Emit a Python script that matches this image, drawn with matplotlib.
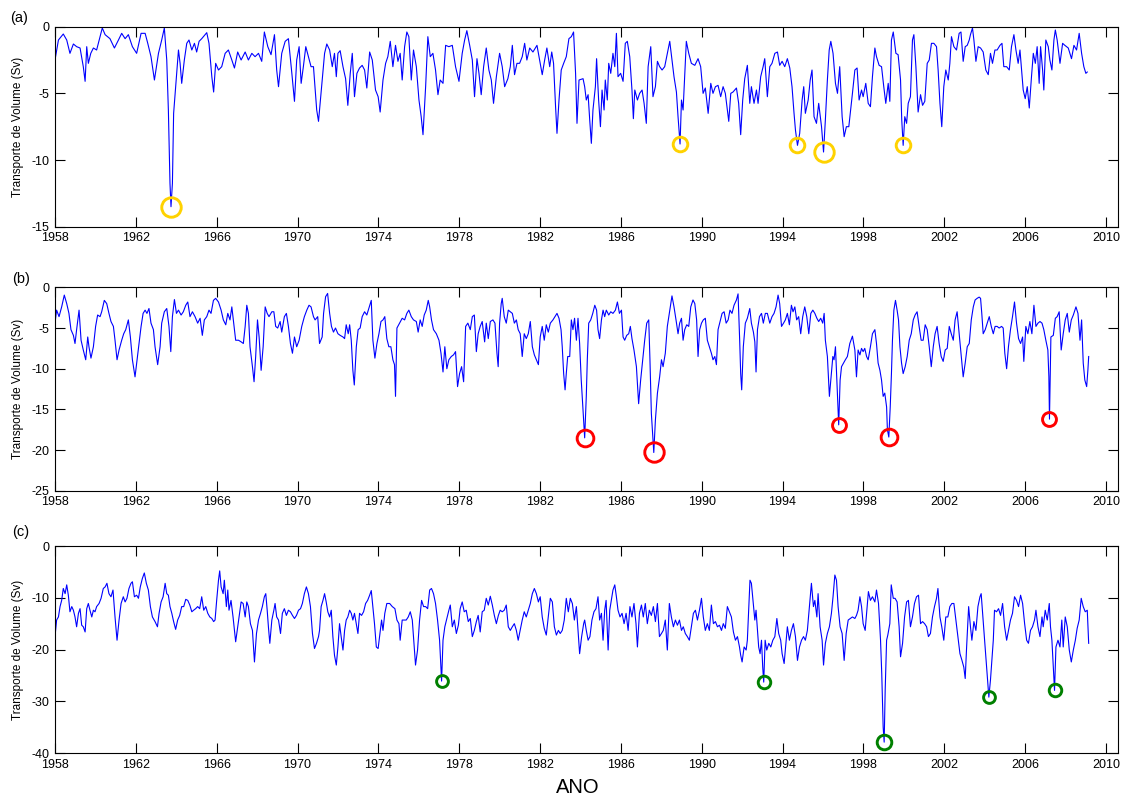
import numpy as np
import matplotlib.pyplot as plt

plt.rcParams['font.family'] = ['Liberation Sans', 'DejaVu Sans']
plt.rcParams['axes.unicode_minus'] = False

# ==========================================
# 1. Dados - anos decimais e transporte (Sv)
# ==========================================
# (a)
t_a = [
    1958.00, 1958.17, 1958.41, 1958.58, 1958.74, 1958.91, 1959.07, 1959.24, 1959.40, 1959.49,
    1959.57, 1959.65, 1959.77, 1959.90, 1960.06, 1960.23, 1960.34, 1960.48, 1960.72, 1960.94,
    1961.14, 1961.30, 1961.47, 1961.63, 1961.83, 1962.04, 1962.26, 1962.46, 1962.59, 1962.75,
    1962.92, 1963.12, 1963.28, 1963.41, 1963.53, 1963.61, 1963.69, 1963.74, 1963.81, 1963.87,
    1963.97, 1964.11, 1964.19, 1964.27, 1964.40, 1964.52, 1964.63, 1964.77, 1964.90, 1965.01,
    1965.13, 1965.26, 1965.51, 1965.62, 1965.76, 1965.85, 1965.95, 1966.09, 1966.25, 1966.42,
    1966.58, 1966.75, 1966.88, 1967.04, 1967.21, 1967.41, 1967.57, 1967.74, 1967.90, 1968.07,
    1968.23, 1968.36, 1968.53, 1968.69, 1968.86, 1968.97, 1969.06, 1969.22, 1969.39, 1969.55,
    1969.72, 1969.85, 1969.96, 1970.08, 1970.18, 1970.29, 1970.41, 1970.54, 1970.67, 1970.79,
    1970.95, 1971.04,
    1971.22, 1971.34, 1971.45, 1971.59, 1971.72, 1971.83, 1971.92, 1972.00, 1972.11, 1972.25,
    1972.38, 1972.49, 1972.61, 1972.71, 1972.82, 1972.94, 1973.07, 1973.20, 1973.32, 1973.43,
    1973.57, 1973.70, 1973.86, 1973.99, 1974.09, 1974.23, 1974.36, 1974.47, 1974.59, 1974.72,
    1974.85, 1974.97, 1975.08, 1975.18, 1975.30, 1975.41, 1975.51, 1975.63, 1975.74, 1975.88,
    1976.01, 1976.12, 1976.21, 1976.34, 1976.45, 1976.57, 1976.70, 1976.83, 1976.95, 1977.06,
    1977.20, 1977.33, 1977.49, 1977.66, 1977.82, 1977.99, 1978.15, 1978.27, 1978.38, 1978.52,
    1978.65, 1978.76, 1978.88, 1978.98, 1979.09, 1979.21, 1979.34, 1979.47, 1979.59, 1979.70,
    1979.84, 1980.00, 1980.13, 1980.25, 1980.41, 1980.53, 1980.63, 1980.74, 1980.86, 1980.99,
    1981.12, 1981.24, 1981.35, 1981.49, 1981.65, 1981.85, 1981.98, 1982.11, 1982.23, 1982.34,
    1982.48, 1982.58, 1982.67, 1982.77, 1982.84, 1982.94, 1983.05, 1983.17, 1983.30, 1983.43,
    1983.55, 1983.66, 1983.76, 1983.83, 1983.93, 1984.13,
    1984.21, 1984.29, 1984.38, 1984.46, 1984.54, 1984.62, 1984.74, 1984.80, 1984.90, 1984.99,
    1985.07, 1985.17, 1985.23, 1985.33, 1985.40, 1985.50, 1985.61, 1985.70, 1985.78, 1985.86,
    1985.99, 1986.11, 1986.22, 1986.32, 1986.44, 1986.55, 1986.62, 1986.69, 1986.82, 1986.93,
    1987.05, 1987.15, 1987.26, 1987.35, 1987.48, 1987.59, 1987.71, 1987.81, 1987.92, 1988.04,
    1988.17, 1988.30, 1988.42, 1988.53, 1988.63, 1988.75, 1988.83, 1988.93, 1989.00, 1989.08,
    1989.16, 1989.24, 1989.36, 1989.49, 1989.66, 1989.82, 1989.95, 1990.07, 1990.18, 1990.32,
    1990.45, 1990.56, 1990.68, 1990.81, 1990.94, 1991.06, 1991.17, 1991.34, 1991.44, 1991.55,
    1991.72, 1991.83, 1991.93, 1992.03, 1992.13, 1992.26, 1992.38, 1992.46, 1992.59, 1992.71,
    1992.79, 1992.92, 1993.04, 1993.12, 1993.25, 1993.37, 1993.48, 1993.62, 1993.75, 1993.86,
    1993.98, 1994.11, 1994.24, 1994.36, 1994.47, 1994.57, 1994.64, 1994.74, 1994.85, 1994.97,
    1995.05, 1995.13, 1995.27, 1995.37, 1995.46, 1995.56, 1995.68, 1995.79, 1995.93, 1996.03,
    1996.12, 1996.22, 1996.31, 1996.39, 1996.50, 1996.62, 1996.72, 1996.83, 1996.95, 1997.05,
    1997.16, 1997.28,
    1997.46, 1997.58, 1997.69, 1997.79, 1997.91, 1997.99, 1998.12, 1998.24, 1998.35, 1998.45,
    1998.57, 1998.65, 1998.78, 1998.90, 1999.01, 1999.11, 1999.23, 1999.31, 1999.39, 1999.48,
    1999.61, 1999.72, 1999.84, 1999.90, 1999.97, 2000.05, 2000.14, 2000.22, 2000.33, 2000.43,
    2000.50, 2000.60, 2000.71, 2000.83, 2000.93, 2001.04, 2001.16, 2001.26, 2001.37, 2001.49,
    2001.62, 2001.70, 2001.79, 2001.88, 2001.98, 2002.08, 2002.20, 2002.28, 2002.36, 2002.48,
    2002.61, 2002.74, 2002.83, 2002.94, 2003.04, 2003.14, 2003.24, 2003.30, 2003.40, 2003.47,
    2003.57, 2003.68, 2003.80, 2003.93, 2004.06, 2004.18, 2004.29, 2004.39, 2004.51, 2004.62,
    2004.76, 2004.86, 2004.95, 2005.09, 2005.22, 2005.33, 2005.45, 2005.55, 2005.66, 2005.75,
    2005.83, 2005.91, 2006.01, 2006.11, 2006.21, 2006.32, 2006.41, 2006.51, 2006.60, 2006.70,
    2006.77, 2006.87, 2006.93, 2007.03, 2007.15, 2007.23, 2007.33, 2007.43, 2007.50, 2007.59,
    2007.73, 2007.86, 2007.97, 2008.14, 2008.30, 2008.42, 2008.55, 2008.68, 2008.80, 2008.91,
    2009.01, 2009.08,
]
v_a = [
    -2.5, -1.0, -0.55, -1.0, -2.0, -1.3, -1.5, -1.6, -3.0, -4.1,
    -1.5, -2.75, -2.0, -1.6, -1.75, -0.75, -0.1, -0.6, -0.9, -1.6,
    -1.0, -0.5, -0.9, -0.6, -1.5, -2.0, -0.5, -0.5, -1.25, -2.25,
    -4.0, -2.0, -1.0, -0.1, -2.5, -6.25, -11.75, -13.5, -11.75, -6.5,
    -4.5, -1.75, -2.75, -4.25, -2.5, -1.25, -1.0, -1.75, -1.25, -1.9,
    -1.1, -0.9, -0.45, -1.25, -3.75, -4.9, -2.75, -3.25, -3.0, -2.0,
    -1.75, -2.5, -3.1, -1.9, -2.5, -1.9, -2.5, -2.0, -2.25, -2.0,
    -2.6, -0.4, -1.5, -2.1, -0.6, -3.25, -4.5, -2.0, -1.1, -0.9,
    -3.5, -5.6, -2.5, -1.5, -4.25, -3.0, -1.5, -2.25, -3.0, -3.0,
    -6.25, -7.1,
    -4.0, -2.0, -1.3, -1.75, -3.0, -2.0, -3.75, -2.0, -1.8, -3.0,
    -3.9, -5.9, -3.5, -2.0, -5.25, -3.5, -3.1, -2.9, -3.25, -4.6,
    -1.9, -2.5, -4.75, -5.25, -6.4, -4.0, -2.75, -2.25, -1.1, -3.0,
    -1.4, -2.6, -2.0, -4.0, -1.5, -0.4, -0.75, -4.0, -1.75, -3.0,
    -5.5, -6.75, -8.1, -4.5, -0.75, -2.25, -2.0, -3.25, -5.1, -4.0,
    -4.25, -1.4, -1.5, -1.4, -3.0, -4.1, -2.0, -1.0, -0.3, -1.4,
    -2.5, -5.25, -2.4, -3.5, -5.1, -3.0, -1.6, -3.25, -4.0, -5.75,
    -3.75, -2.0, -3.0, -4.5, -3.9, -3.0, -1.4, -3.6, -2.75, -2.75,
    -2.25, -1.25, -2.5, -1.6, -1.9, -1.4, -2.5, -3.6, -2.5, -1.6,
    -3.0, -1.9, -2.75, -6.0, -8.0, -5.5, -3.25, -2.75, -2.25, -0.9,
    -0.75, -0.4, -3.5, -7.25, -4.0, -3.9,
    -4.5, -5.5, -5.1, -7.0, -8.75, -6.25, -4.5, -2.4, -5.5, -7.5,
    -4.75, -6.25, -4.0, -5.5, -2.75, -3.5, -2.0, -3.0, -0.5, -3.75,
    -3.5, -4.1, -1.25, -1.1, -2.25, -4.75, -6.9, -4.75, -5.5, -5.0,
    -4.75, -5.75, -7.25, -3.0, -1.5, -5.25, -4.5, -2.6, -3.0, -3.25,
    -3.0, -2.0, -1.1, -2.5, -3.75, -4.9, -6.75, -8.8, -5.5, -6.25,
    -3.75, -1.1, -2.0, -2.75, -2.9, -2.4, -3.0, -5.0, -4.6, -6.5,
    -4.25, -5.0, -4.5, -4.4, -5.25, -4.5, -5.0, -7.1, -5.0, -4.9,
    -4.6, -5.75, -8.1, -5.5, -3.9, -2.9, -5.75, -4.5, -5.75, -4.75,
    -5.75, -3.75, -3.0, -2.4, -5.25, -3.0, -2.75, -2.0, -1.9, -2.9,
    -2.6, -3.0, -2.4, -3.1, -4.5, -6.5, -7.75, -8.9, -8.0, -5.5,
    -4.5, -6.5, -5.5, -4.0, -3.25, -6.75, -7.25, -5.75, -7.5, -9.4,
    -7.0, -4.0, -1.75, -1.1, -2.0, -4.25, -5.0, -3.0, -6.75, -8.25,
    -7.5, -7.5,
    -5.0, -3.25, -3.1, -5.5, -4.75, -5.25, -4.25, -5.75, -6.0, -3.75,
    -1.6, -2.25, -2.9, -3.0, -4.5, -5.75, -4.25, -5.6, -1.0, -0.4,
    -2.0, -2.1, -4.0, -7.0, -8.9, -6.75, -7.25, -5.75, -5.25, -1.0,
    -0.6, -3.0, -6.4, -5.1, -5.9, -5.6, -2.75, -2.5, -1.25, -1.25,
    -1.5, -3.25, -5.75, -7.5, -4.5, -3.25, -4.0, -2.75, -0.75, -1.5,
    -1.75, -0.5, -0.4, -2.6, -1.5, -1.4, -1.0, -0.6, -0.1, -1.0,
    -2.6, -1.5, -1.6, -1.9, -3.25, -3.6, -2.0, -2.75, -1.75, -1.75,
    -1.4, -1.25, -3.0, -3.0, -3.25, -1.5, -0.6, -1.75, -2.75, -1.75,
    -3.25, -4.75, -5.4, -4.5, -6.1, -3.75, -2.0, -2.75, -1.5, -4.25,
    -1.5, -3.25, -4.75, -1.0, -1.5, -2.5, -3.25, -1.0, -0.25, -1.0,
    -2.75, -1.25, -1.4, -1.6, -2.4, -1.4, -1.75, -0.5, -2.0, -3.0,
    -3.5, -3.4,
]

# (b)
t_b = [
    1958.00, 1958.08, 1958.20, 1958.33, 1958.46, 1958.58, 1958.69, 1958.79, 1958.91, 1958.99,
    1959.07, 1959.19, 1959.29, 1959.40, 1959.52, 1959.62, 1959.68, 1959.78, 1959.90, 1960.01,
    1960.11, 1960.23, 1960.31, 1960.44, 1960.56, 1960.67, 1960.77, 1960.89, 1960.97, 1961.07,
    1961.17, 1961.30, 1961.40, 1961.50, 1961.63, 1961.73, 1961.83, 1961.96, 1962.06, 1962.16,
    1962.26, 1962.36, 1962.46, 1962.55, 1962.65, 1962.75, 1962.87, 1962.95, 1963.08, 1963.20,
    1963.28, 1963.41, 1963.53, 1963.64, 1963.73, 1963.81, 1963.91, 1964.01, 1964.11, 1964.24,
    1964.35, 1964.47, 1964.57, 1964.68, 1964.80, 1964.93, 1965.06, 1965.18, 1965.29, 1965.39,
    1965.51, 1965.62, 1965.72, 1965.84, 1965.95, 1966.09, 1966.22, 1966.33, 1966.45, 1966.55,
    1966.66, 1966.75, 1966.84, 1966.94, 1967.08, 1967.21, 1967.32, 1967.41, 1967.49, 1967.57,
    1967.65, 1967.77, 1967.85, 1967.93, 1968.02, 1968.10, 1968.20, 1968.30, 1968.40, 1968.50,
    1968.59, 1968.73, 1968.83, 1968.92, 1969.02, 1969.14, 1969.22, 1969.35, 1969.45, 1969.55,
    1969.65, 1969.75, 1969.85, 1969.96, 1970.08, 1970.21, 1970.34, 1970.46, 1970.57, 1970.67,
    1970.79, 1970.87, 1971.00,
    1971.09, 1971.22, 1971.29, 1971.39, 1971.49, 1971.59, 1971.68, 1971.78, 1971.88, 1972.00,
    1972.11, 1972.25, 1972.33, 1972.41, 1972.51, 1972.58, 1972.66, 1972.74, 1972.81, 1972.91,
    1973.00, 1973.10, 1973.20, 1973.32, 1973.43, 1973.53, 1973.65, 1973.73, 1973.83, 1973.93,
    1974.03, 1974.13, 1974.23, 1974.32, 1974.42, 1974.52, 1974.62, 1974.72, 1974.80, 1974.85,
    1974.92, 1975.05, 1975.18, 1975.30, 1975.41, 1975.51, 1975.63, 1975.74, 1975.88, 1975.97,
    1976.07, 1976.17, 1976.27, 1976.37, 1976.47, 1976.54, 1976.63, 1976.73, 1976.87, 1977.00,
    1977.10, 1977.20, 1977.29, 1977.39, 1977.49, 1977.61, 1977.72, 1977.82, 1977.92, 1978.02,
    1978.12, 1978.22, 1978.32, 1978.43, 1978.55, 1978.65, 1978.75, 1978.85, 1978.94, 1979.04,
    1979.14, 1979.26, 1979.34, 1979.44, 1979.54, 1979.67, 1979.77, 1979.87, 1979.93, 1980.00,
    1980.08, 1980.13, 1980.23, 1980.33, 1980.43, 1980.53, 1980.63, 1980.73, 1980.83, 1980.92,
    1981.02, 1981.12, 1981.22, 1981.32, 1981.42, 1981.52, 1981.62, 1981.72, 1981.82, 1981.92,
    1982.01, 1982.11, 1982.21, 1982.31, 1982.41, 1982.51, 1982.64, 1982.74, 1982.84, 1982.94,
    1983.04, 1983.10, 1983.17, 1983.24, 1983.30, 1983.37, 1983.47, 1983.55, 1983.63, 1983.71,
    1983.80, 1983.88, 1983.96, 1984.04, 1984.13, 1984.21,
    1984.29, 1984.34, 1984.41, 1984.51, 1984.61, 1984.71, 1984.80, 1984.87, 1984.95, 1985.04,
    1985.12, 1985.20, 1985.28, 1985.40, 1985.50, 1985.61, 1985.73, 1985.83, 1985.93, 1986.03,
    1986.11, 1986.19, 1986.29, 1986.39, 1986.47, 1986.55, 1986.65, 1986.77, 1986.82, 1986.88,
    1986.98, 1987.08, 1987.18, 1987.28, 1987.38, 1987.44, 1987.51, 1987.59, 1987.63, 1987.71,
    1987.81, 1987.92, 1988.01, 1988.09, 1988.20, 1988.30, 1988.40, 1988.47, 1988.53, 1988.63,
    1988.73, 1988.83, 1988.91, 1989.00, 1989.08, 1989.16, 1989.26, 1989.36, 1989.46, 1989.57,
    1989.66, 1989.75, 1989.82, 1989.90, 1989.99, 1990.08, 1990.18, 1990.28, 1990.38, 1990.48,
    1990.56, 1990.65, 1990.73, 1990.81, 1990.91, 1991.01, 1991.11, 1991.21, 1991.31, 1991.40,
    1991.50, 1991.60, 1991.72, 1991.80, 1991.88, 1991.93, 1991.98, 1992.06, 1992.16, 1992.26,
    1992.38, 1992.46, 1992.56, 1992.63, 1992.69, 1992.76, 1992.86, 1992.96, 1993.05, 1993.15,
    1993.25, 1993.37, 1993.48, 1993.58, 1993.68, 1993.78, 1993.86, 1993.95, 1994.05, 1994.14,
    1994.24, 1994.34, 1994.44, 1994.52, 1994.61, 1994.70, 1994.80, 1994.90, 1995.00, 1995.10,
    1995.20, 1995.30, 1995.40, 1995.50, 1995.60, 1995.70, 1995.79, 1995.89, 1995.99, 1996.06,
    1996.12, 1996.22, 1996.32, 1996.42, 1996.49, 1996.55, 1996.62, 1996.69, 1996.75, 1996.78,
    1996.85, 1996.92, 1997.02, 1997.11, 1997.21, 1997.33,
    1997.46, 1997.58, 1997.66, 1997.74, 1997.83, 1997.91, 1997.99, 1998.07, 1998.16, 1998.24,
    1998.35, 1998.45, 1998.57, 1998.65, 1998.73, 1998.82, 1998.90, 1998.98, 1999.06, 1999.15,
    1999.19, 1999.26, 1999.33, 1999.39, 1999.44, 1999.51, 1999.59, 1999.67, 1999.74, 1999.81,
    1999.89, 1999.97, 2000.07, 2000.17, 2000.27, 2000.37, 2000.47, 2000.56, 2000.66, 2000.76,
    2000.86, 2000.96, 2001.06, 2001.16, 2001.26, 2001.36, 2001.46, 2001.55, 2001.65, 2001.75,
    2001.85, 2001.95, 2002.05, 2002.15, 2002.25, 2002.35, 2002.45, 2002.54, 2002.64, 2002.74,
    2002.84, 2002.94, 2003.04, 2003.14, 2003.24, 2003.34, 2003.44, 2003.53, 2003.63, 2003.73,
    2003.80, 2003.86, 2003.93, 2004.03, 2004.13, 2004.23, 2004.33, 2004.43, 2004.52, 2004.62,
    2004.72, 2004.84, 2004.92, 2005.00, 2005.09, 2005.18, 2005.28, 2005.38, 2005.48, 2005.58,
    2005.68, 2005.78, 2005.88, 2005.94, 2006.04, 2006.14, 2006.24, 2006.34, 2006.44, 2006.54,
    2006.64, 2006.74, 2006.84, 2006.93, 2007.03, 2007.13, 2007.18, 2007.21, 2007.28, 2007.40,
    2007.50, 2007.59, 2007.69, 2007.79, 2007.89, 2007.99, 2008.09, 2008.19, 2008.29, 2008.39,
    2008.52, 2008.62, 2008.72, 2008.80, 2008.88, 2008.96, 2009.05, 2009.11, 2009.15,
]
v_b = [
    -4.4, -2.8, -3.6, -2.4, -0.95, -2.0, -3.2, -5.2, -5.9, -6.9,
    -5.2, -2.8, -6.5, -7.7, -8.9, -6.1, -7.3, -8.7, -7.3, -4.8,
    -3.4, -3.6, -3.0, -1.6, -2.0, -3.2, -4.2, -4.8, -6.5, -8.9,
    -7.7, -6.5, -5.7, -5.2, -4.0, -6.1, -8.9, -11.0, -8.9, -6.9,
    -4.8, -3.2, -2.8, -3.2, -2.6, -4.4, -5.2, -7.3, -9.5, -7.3,
    -4.4, -3.0, -2.6, -4.8, -7.9, -3.6, -1.5, -3.2, -2.8, -3.4,
    -3.0, -2.2, -1.8, -3.6, -3.0, -3.6, -4.4, -3.8, -5.9, -4.0,
    -3.6, -2.8, -3.2, -1.6, -1.35, -1.8, -2.8, -4.0, -4.6, -3.2,
    -4.0, -2.4, -4.4, -6.5, -6.5, -6.7, -6.9, -4.8, -2.2, -3.2,
    -7.3, -9.75, -11.6, -8.5, -4.0, -6.1, -10.2, -7.3, -2.4, -3.2,
    -3.6, -3.0, -3.0, -4.8, -5.0, -4.2, -5.5, -3.6, -3.2, -4.8,
    -6.9, -8.1, -6.1, -7.3, -6.5, -4.8, -3.6, -2.8, -2.2, -2.4,
    -3.6, -4.0, -3.6,
    -6.9, -6.1, -3.2, -1.15, -0.75, -3.2, -4.8, -5.5, -5.0, -5.7,
    -5.9, -6.1, -6.3, -4.6, -5.7, -4.6, -6.5, -10.2, -12.0, -7.3,
    -5.2, -5.0, -3.6, -3.0, -3.4, -2.6, -1.6, -6.5, -8.7, -6.9,
    -5.7, -4.2, -4.0, -3.6, -6.3, -7.3, -7.3, -8.9, -9.5, -13.4,
    -5.0, -4.4, -3.8, -4.0, -3.2, -2.8, -3.6, -4.0, -4.2, -5.5,
    -4.0, -4.8, -3.4, -2.8, -1.6, -2.4, -4.0, -5.2, -5.7, -6.5,
    -8.1, -10.4, -7.3, -10.0, -8.9, -8.5, -8.3, -7.9, -12.2, -10.6,
    -9.75, -11.6, -4.8, -4.4, -5.2, -3.6, -3.4, -7.9, -5.7, -4.8,
    -4.2, -6.7, -4.4, -6.3, -4.2, -4.0, -4.4, -8.1, -9.75, -4.4,
    -2.0, -1.35, -3.6, -4.4, -2.8, -3.0, -3.2, -4.4, -4.0, -5.2,
    -5.7, -8.5, -5.7, -6.3, -5.7, -4.2, -7.3, -8.3, -8.9, -9.5,
    -6.1, -4.8, -6.5, -4.6, -5.5, -4.4, -4.0, -3.6, -3.2, -3.8,
    -5.2, -7.3, -10.6, -12.6, -10.6, -8.5, -8.5, -4.0, -5.2, -3.8,
    -6.5, -3.8, -6.9, -11.4, -15.1, -18.5,
    -13.4, -8.9, -4.4, -4.0, -3.2, -2.2, -2.8, -5.2, -6.3, -4.0,
    -2.8, -3.6, -2.8, -3.4, -3.0, -3.2, -2.8, -1.8, -3.2, -2.8,
    -6.1, -6.5, -5.9, -5.7, -4.8, -6.3, -7.7, -9.75, -11.8, -14.3,
    -11.4, -8.9, -6.5, -4.4, -4.0, -8.9, -15.5, -18.8, -20.3, -16.3,
    -13.0, -11.0, -8.9, -9.75, -8.1, -4.8, -3.2, -2.0, -1.05, -2.4,
    -4.0, -5.7, -4.4, -3.8, -6.5, -5.2, -4.6, -4.8, -2.4, -1.55,
    -2.0, -4.0, -8.5, -5.2, -4.4, -4.0, -3.8, -6.5, -7.3, -8.1,
    -8.9, -8.5, -9.5, -5.2, -4.2, -3.2, -3.0, -4.4, -4.0, -2.8,
    -3.2, -2.2, -1.55, -0.8, -6.5, -10.6, -12.6, -7.3, -4.4, -3.8,
    -2.6, -4.4, -5.5, -6.7, -10.4, -5.2, -3.6, -3.2, -4.4, -3.2,
    -3.2, -4.4, -3.6, -3.2, -2.4, -0.95, -2.0, -4.8, -4.4, -4.0,
    -3.2, -4.6, -2.2, -3.0, -2.4, -4.0, -3.6, -5.7, -3.6, -2.4,
    -3.6, -5.7, -3.2, -2.8, -3.2, -3.8, -4.2, -3.8, -4.4, -3.2,
    -6.5, -8.5, -13.4, -10.6, -8.5, -8.9, -7.3, -11.4, -14.7, -16.9,
    -11.4, -9.75, -9.3, -8.9, -8.5, -6.9,
    -6.0, -7.7, -11.0, -7.7, -8.3, -7.5, -7.9, -7.5, -8.5, -8.9,
    -7.3, -5.7, -5.2, -6.9, -9.3, -10.2, -11.4, -13.4, -13.0, -14.7,
    -17.5, -18.4, -14.7, -10.6, -6.5, -2.8, -1.6, -2.8, -4.0, -7.3,
    -9.3, -10.6, -9.75, -8.5, -6.5, -5.7, -4.0, -3.4, -3.0, -4.8,
    -6.5, -6.5, -4.6, -5.2, -7.3, -9.75, -7.3, -5.7, -4.8, -6.9,
    -8.5, -9.1, -7.7, -7.5, -4.8, -5.7, -6.5, -4.0, -3.0, -5.7,
    -8.5, -11.0, -9.3, -7.3, -6.9, -4.0, -2.4, -1.55, -1.35, -1.2,
    -1.35, -3.2, -5.7, -5.2, -4.4, -3.6, -4.8, -5.7, -4.8, -4.8,
    -5.0, -4.8, -5.0, -8.1, -10.0, -7.3, -5.2, -3.6, -1.8, -4.4,
    -6.3, -6.9, -6.1, -9.1, -4.8, -5.7, -4.2, -5.7, -2.2, -4.8,
    -4.4, -4.2, -4.4, -5.2, -6.5, -7.7, -11.0, -16.2, -6.1, -5.9,
    -3.8, -3.6, -3.0, -7.7, -5.7, -4.0, -3.2, -5.5, -4.0, -3.4,
    -2.4, -3.2, -6.5, -4.0, -9.3, -11.4, -12.2, -10.2, -8.5,
]

# (c)
t_c = [
    1958.00, 1958.08, 1958.17, 1958.25, 1958.33, 1958.41, 1958.50, 1958.58, 1958.66, 1958.74,
    1958.83, 1958.91, 1958.99, 1959.07, 1959.16, 1959.24, 1959.32, 1959.40, 1959.49, 1959.57,
    1959.65, 1959.73, 1959.82, 1959.90, 1959.98, 1960.06, 1960.18, 1960.28, 1960.39, 1960.48,
    1960.57, 1960.67, 1960.77, 1960.87, 1960.97, 1961.07, 1961.17, 1961.27, 1961.38, 1961.47,
    1961.56, 1961.66, 1961.76, 1961.83, 1961.93, 1962.04, 1962.13, 1962.22, 1962.32, 1962.42,
    1962.52, 1962.62, 1962.72, 1962.82, 1962.95, 1963.07, 1963.15, 1963.25, 1963.35, 1963.45,
    1963.53, 1963.61, 1963.69, 1963.78, 1963.87, 1963.97, 1964.07, 1964.17, 1964.27, 1964.37,
    1964.47, 1964.57, 1964.67, 1964.77, 1964.86, 1964.96, 1965.06, 1965.16, 1965.26, 1965.36,
    1965.46, 1965.56, 1965.66, 1965.76, 1965.85, 1965.92, 1966.00, 1966.09, 1966.15, 1966.22,
    1966.32, 1966.38, 1966.48, 1966.55, 1966.61, 1966.71, 1966.81, 1966.88, 1966.94, 1967.04,
    1967.11, 1967.21, 1967.31, 1967.41, 1967.49, 1967.57, 1967.67, 1967.77, 1967.87, 1967.97,
    1968.07, 1968.17, 1968.26, 1968.36, 1968.43, 1968.50, 1968.56, 1968.63, 1968.73, 1968.83,
    1968.89, 1968.97, 1969.06, 1969.16, 1969.25, 1969.35, 1969.45, 1969.55, 1969.65, 1969.75,
    1969.85, 1969.95, 1970.05, 1970.15, 1970.24, 1970.34, 1970.44, 1970.54, 1970.64, 1970.74,
    1970.84, 1970.94, 1971.04,
    1971.09, 1971.17, 1971.26, 1971.34, 1971.42, 1971.50, 1971.59, 1971.67, 1971.75, 1971.83,
    1971.92, 1972.00, 1972.08, 1972.16, 1972.25, 1972.33, 1972.41, 1972.49, 1972.58, 1972.66,
    1972.74, 1972.82, 1972.91, 1972.99, 1973.07, 1973.17, 1973.27, 1973.37, 1973.47, 1973.57,
    1973.65, 1973.73, 1973.81, 1973.90, 1973.99, 1974.06, 1974.16, 1974.23, 1974.32, 1974.42,
    1974.56, 1974.69, 1974.82, 1974.92, 1975.02, 1975.08, 1975.18, 1975.28, 1975.38, 1975.48,
    1975.58, 1975.68, 1975.74, 1975.84, 1975.94, 1976.04, 1976.14, 1976.24, 1976.34, 1976.44,
    1976.54, 1976.63, 1976.73, 1976.83, 1976.93, 1977.03, 1977.10, 1977.13, 1977.20, 1977.29,
    1977.39, 1977.49, 1977.56, 1977.66, 1977.76, 1977.86, 1977.96, 1978.05, 1978.15, 1978.25,
    1978.35, 1978.45, 1978.55, 1978.65, 1978.75, 1978.85, 1978.94, 1979.04, 1979.14, 1979.24,
    1979.34, 1979.44, 1979.54, 1979.64, 1979.74, 1979.84, 1979.94, 1980.03, 1980.13, 1980.23,
    1980.33, 1980.43, 1980.53, 1980.63, 1980.73, 1980.83, 1980.92, 1981.02, 1981.12, 1981.22,
    1981.32, 1981.42, 1981.52, 1981.62, 1981.72, 1981.82, 1981.92, 1982.01, 1982.11, 1982.21,
    1982.31, 1982.41, 1982.51, 1982.61, 1982.71, 1982.81, 1982.91, 1983.00, 1983.10, 1983.20,
    1983.30, 1983.40, 1983.50, 1983.60, 1983.70, 1983.80, 1983.90, 1983.96, 1984.06, 1984.16,
    1984.21, 1984.29, 1984.38, 1984.47, 1984.57, 1984.67, 1984.77, 1984.87, 1984.95, 1985.04,
    1985.12, 1985.20, 1985.27, 1985.37, 1985.45, 1985.53, 1985.61, 1985.70, 1985.78, 1985.86,
    1985.96, 1986.06, 1986.16, 1986.26, 1986.36, 1986.45, 1986.55, 1986.65, 1986.75, 1986.82,
    1986.92, 1987.02, 1987.11, 1987.21, 1987.31, 1987.41, 1987.51, 1987.61, 1987.71, 1987.81,
    1987.91, 1988.01, 1988.10, 1988.20, 1988.30, 1988.40, 1988.50, 1988.60, 1988.70, 1988.80,
    1988.90, 1989.00, 1989.09, 1989.19, 1989.29, 1989.39, 1989.49, 1989.59, 1989.69, 1989.79,
    1989.89, 1989.99, 1990.08, 1990.18, 1990.28, 1990.38, 1990.48, 1990.58, 1990.68, 1990.78,
    1990.88, 1990.98, 1991.07, 1991.17, 1991.27, 1991.37, 1991.47, 1991.57, 1991.67, 1991.77,
    1991.87, 1991.93, 1992.00, 1992.10, 1992.20, 1992.26, 1992.33, 1992.39, 1992.46, 1992.54,
    1992.63, 1992.69, 1992.76, 1992.82, 1992.89, 1992.96, 1993.02, 1993.07, 1993.14, 1993.22,
    1993.32, 1993.42, 1993.52, 1993.62, 1993.72, 1993.81, 1993.91, 1993.98, 1994.08, 1994.18,
    1994.24, 1994.34, 1994.44, 1994.54, 1994.64, 1994.74, 1994.84, 1994.94, 1995.04, 1995.13,
    1995.23, 1995.33, 1995.43, 1995.53, 1995.60, 1995.70, 1995.76, 1995.86, 1995.96, 1996.03,
    1996.12, 1996.22, 1996.32, 1996.42, 1996.50, 1996.59, 1996.67, 1996.75, 1996.85, 1996.95,
    1997.05, 1997.15, 1997.25,
    1997.46, 1997.58, 1997.66, 1997.74, 1997.83, 1997.91, 1997.99, 1998.09, 1998.19, 1998.25,
    1998.35, 1998.45, 1998.57, 1998.65, 1998.75, 1998.85, 1998.91, 1998.98, 1999.03, 1999.08,
    1999.15, 1999.21, 1999.31, 1999.38, 1999.48, 1999.57, 1999.67, 1999.77, 1999.84, 1999.94,
    2000.04, 2000.14, 2000.23, 2000.33, 2000.43, 2000.53, 2000.63, 2000.73, 2000.83, 2000.93,
    2001.03, 2001.13, 2001.22, 2001.32, 2001.42, 2001.52, 2001.62, 2001.69, 2001.79, 2001.88,
    2001.98, 2002.08, 2002.18, 2002.28, 2002.38, 2002.48, 2002.58, 2002.68, 2002.78, 2002.88,
    2002.97, 2003.04, 2003.11, 2003.21, 2003.30, 2003.37, 2003.47, 2003.57, 2003.67, 2003.77,
    2003.83, 2003.90, 2004.00, 2004.10, 2004.16, 2004.21, 2004.29, 2004.36, 2004.43, 2004.49,
    2004.59, 2004.69, 2004.79, 2004.89, 2004.99, 2005.09, 2005.18, 2005.28, 2005.38, 2005.48,
    2005.58, 2005.68, 2005.78, 2005.88, 2005.98, 2006.08, 2006.17, 2006.27, 2006.37, 2006.47,
    2006.54, 2006.64, 2006.74, 2006.84, 2006.90, 2007.00, 2007.10, 2007.20, 2007.26, 2007.33,
    2007.40, 2007.46, 2007.53, 2007.63, 2007.73, 2007.82, 2007.89, 2007.99, 2008.09, 2008.19,
    2008.29, 2008.39, 2008.49, 2008.58, 2008.68, 2008.78, 2008.88, 2008.98, 2009.08, 2009.15,
]
v_c = [
    -17.5, -14.3, -13.7, -11.7, -10.5, -8.2, -9.2, -7.5, -9.5, -12.7,
    -11.7, -12.4, -13.7, -15.6, -13.0, -12.1, -15.3, -15.6, -16.6, -12.1,
    -11.1, -12.4, -13.7, -12.4, -12.7, -11.7, -11.1, -10.1, -8.2, -7.9,
    -7.2, -9.2, -9.8, -8.5, -13.7, -18.2, -14.3, -11.1, -9.8, -10.8,
    -10.1, -8.2, -7.2, -6.9, -9.8, -9.5, -10.1, -7.9, -6.3, -5.2,
    -7.2, -8.5, -11.7, -13.7, -14.6, -15.6, -13.0, -10.8, -9.8, -7.2,
    -9.2, -9.5, -11.7, -13.0, -14.6, -16.1, -14.3, -13.4, -11.7, -11.7,
    -10.3, -10.5, -11.4, -12.7, -12.4, -12.1, -11.7, -12.1, -9.8, -12.4,
    -11.7, -13.0, -13.7, -14.0, -14.6, -14.3, -10.5, -6.6, -4.8, -7.9,
    -9.2, -6.6, -11.7, -8.5, -12.4, -10.5, -13.7, -16.3, -18.5, -15.6,
    -13.7, -10.8, -11.1, -13.7, -10.8, -11.7, -15.0, -16.3, -22.4, -16.9,
    -14.3, -13.0, -11.7, -9.8, -9.2, -12.4, -15.6, -18.8, -14.3, -12.4,
    -11.1, -13.7, -14.3, -16.9, -13.0, -12.1, -13.4, -12.4, -12.7, -13.4,
    -14.0, -13.4, -12.4, -12.1, -11.1, -9.2, -7.9, -9.2, -11.7, -16.9,
    -19.8, -18.8, -17.5,
    -16.3, -11.7, -10.5, -9.2, -10.8, -12.7, -13.7, -12.4, -17.5, -21.1,
    -23.0, -19.5, -15.0, -17.5, -20.1, -16.3, -14.3, -13.7, -12.4, -13.0,
    -14.3, -13.0, -15.0, -16.9, -13.0, -13.4, -12.7, -11.1, -10.5, -9.5,
    -8.6, -11.7, -15.0, -19.5, -19.8, -17.5, -14.3, -16.3, -13.0, -11.1,
    -11.1, -11.7, -12.1, -14.3, -15.0, -18.2, -14.3, -14.3, -14.3, -13.7,
    -12.7, -14.3, -17.5, -23.0, -20.1, -14.3, -10.5, -11.7, -11.7, -12.1,
    -8.5, -8.2, -9.2, -11.1, -14.3, -18.2, -24.0, -26.1, -18.2, -15.6,
    -14.0, -12.4, -11.4, -15.6, -14.3, -16.9, -15.3, -12.1, -10.8, -12.7,
    -12.4, -14.6, -14.0, -17.5, -16.3, -14.6, -13.4, -16.6, -12.7, -12.4,
    -10.1, -11.4, -9.7, -11.4, -13.4, -15.0, -13.4, -12.4, -12.7, -12.4,
    -11.4, -15.6, -16.3, -15.6, -15.0, -16.3, -18.2, -16.3, -14.3, -12.7,
    -13.7, -12.4, -11.1, -9.2, -8.2, -9.2, -10.8, -9.8, -13.7, -15.9,
    -17.2, -13.7, -10.1, -10.8, -15.6, -17.2, -16.3, -16.9, -16.3, -14.3,
    -10.1, -12.7, -10.1, -11.1, -14.3, -11.7, -17.5, -20.8, -17.5, -15.0,
    -14.3, -16.3, -18.2, -17.5, -14.3, -12.7, -12.1, -9.8, -14.3, -13.0,
    -18.2, -12.4, -10.5, -20.1, -12.4, -10.5, -8.5, -7.5, -9.8, -12.4,
    -13.7, -13.0, -15.0, -13.0, -16.3, -11.7, -13.7, -11.1, -15.0, -19.5,
    -13.0, -11.4, -13.7, -11.1, -15.0, -12.4, -13.4, -11.7, -14.6, -11.1,
    -17.5, -16.9, -16.3, -14.3, -20.1, -11.1, -13.7, -15.6, -14.3, -15.3,
    -14.3, -16.3, -15.6, -16.9, -17.5, -18.2, -15.6, -13.0, -12.4, -14.3,
    -12.4, -10.1, -13.7, -16.3, -15.0, -16.3, -11.4, -15.0, -14.6, -15.6,
    -15.3, -16.3, -15.0, -15.9, -11.7, -12.7, -13.7, -16.6, -18.2, -17.5,
    -19.5, -21.1, -22.4, -19.5, -20.1, -18.2, -11.7, -6.6, -7.2, -10.5,
    -14.3, -12.4, -16.3, -19.5, -20.8, -18.2, -23.4, -26.3, -18.2, -20.1,
    -18.8, -19.5, -18.2, -17.5, -14.0, -16.9, -18.2, -20.8, -22.7, -18.2,
    -15.6, -18.2, -16.3, -15.0, -17.5, -22.1, -19.5, -18.2, -17.5, -18.2,
    -16.3, -11.7, -7.2, -11.7, -10.5, -13.7, -9.2, -15.6, -18.2, -23.0,
    -18.8, -16.9, -15.6, -13.0, -9.8, -5.6, -6.6, -11.7, -15.6, -16.9,
    -22.1, -16.9, -14.3,
    -13.7, -14.0, -13.4, -12.4, -9.8, -11.7, -15.0, -16.3, -11.7, -8.8,
    -10.5, -9.8, -10.8, -8.5, -11.1, -18.2, -24.6, -35.0, -37.9, -27.9,
    -18.2, -17.2, -15.0, -7.5, -10.1, -10.1, -10.8, -15.6, -21.4, -18.8,
    -13.7, -10.8, -10.5, -15.6, -13.7, -11.1, -9.8, -9.5, -15.0, -14.6,
    -15.0, -15.6, -17.5, -16.9, -13.7, -11.7, -10.1, -8.2, -13.7, -15.6,
    -18.2, -13.7, -13.7, -11.7, -11.1, -11.1, -14.3, -17.5, -20.8, -22.1,
    -23.4, -25.6, -19.5, -11.7, -15.6, -18.2, -14.6, -16.3, -11.7, -9.8,
    -9.2, -13.0, -18.2, -23.4, -26.6, -29.2, -25.9, -22.1, -18.2, -12.4,
    -12.7, -12.1, -13.4, -11.1, -15.6, -18.2, -16.3, -14.3, -13.0, -9.8,
    -10.5, -11.7, -9.5, -11.1, -15.0, -18.2, -18.8, -16.3, -15.6, -14.3,
    -12.4, -15.6, -17.5, -13.7, -15.6, -12.4, -14.3, -11.1, -15.6, -18.2,
    -23.4, -27.9, -19.5, -18.2, -19.5, -14.3, -19.5, -13.7, -15.6, -20.1,
    -22.4, -20.1, -18.2, -15.9, -14.3, -10.1, -11.7, -12.7, -12.4, -18.8,
]

# eventos marcados com circulos (anos)
ev_a = [1963.74, 1988.93, 1994.74, 1996.03, 1999.97]
ev_b = [1984.21, 1987.63, 1996.78, 1999.26, 2007.21]
ev_c = [1977.13, 1993.07, 1999.03, 2004.21, 2007.46]

# tamanho dos circulos (pt)
ms_a = [14, 10.5, 10.5, 14, 10.5]
ms_b = [12, 14, 10, 12, 10]
ms_c = [8.5, 9, 10.5, 8.5, 9]

# ==========================================
# 2. Figura
# ==========================================
fig = plt.figure(figsize=(11.27, 7.96), dpi=100)

paineis = [
    # t, v, eventos, tamanhos, cor, ylim, yticks, posicao
    (t_a, v_a, ev_a, ms_a, '#FFD200', (-15, 0), np.arange(-15, 1, 5), [0.0488, 0.7152, 0.9432, 0.2513]),
    (t_b, v_b, ev_b, ms_b, '#FF0000', (-25, 0), np.arange(-25, 1, 5), [0.0488, 0.3835, 0.9432, 0.2555]),
    (t_c, v_c, ev_c, ms_c, '#008000', (-40, 0), np.arange(-40, 1, 10), [0.0488, 0.0540, 0.9432, 0.2600]),
]

for t, v, ev, ms, cor, ylim, yt, pos in paineis:
    ax = fig.add_axes(pos)
    t = np.asarray(t)
    v = np.asarray(v)
    ax.plot(t, v, color='#0000FF', lw=0.8)

    # circulos nos eventos
    for e, s in zip(ev, ms):
        i = np.argmin(np.abs(t - e))
        ax.plot(t[i], v[i], 'o', mfc='none', mec=cor, mew=2.1, ms=s)

    ax.set_xlim(1958, 2010.6)
    ax.set_ylim(*ylim)
    ax.set_xticks(np.arange(1958, 2011, 4))
    ax.set_yticks(yt)
    ax.tick_params(direction='in', length=7, width=0.8, top=True, right=True, labelsize=9, pad=4)
    for sp in ax.spines.values():
        sp.set_linewidth(0.8)
    ax.set_ylabel('Transporte de Volume (Sv)', fontsize=8.5)
    ax.yaxis.set_label_coords(-0.029, 0.5)

fig.text(0.009, 0.977, '(a)', fontsize=10.5, va='center')
fig.text(0.011, 0.6495, '(b)', fontsize=10.5, va='center')
fig.text(0.011, 0.3317, '(c)', fontsize=10.5, va='center')
fig.text(0.513, 0.0105, 'ANO', fontsize=14.5, ha='center', va='center')

fig.savefig('out.png', dpi=100)
